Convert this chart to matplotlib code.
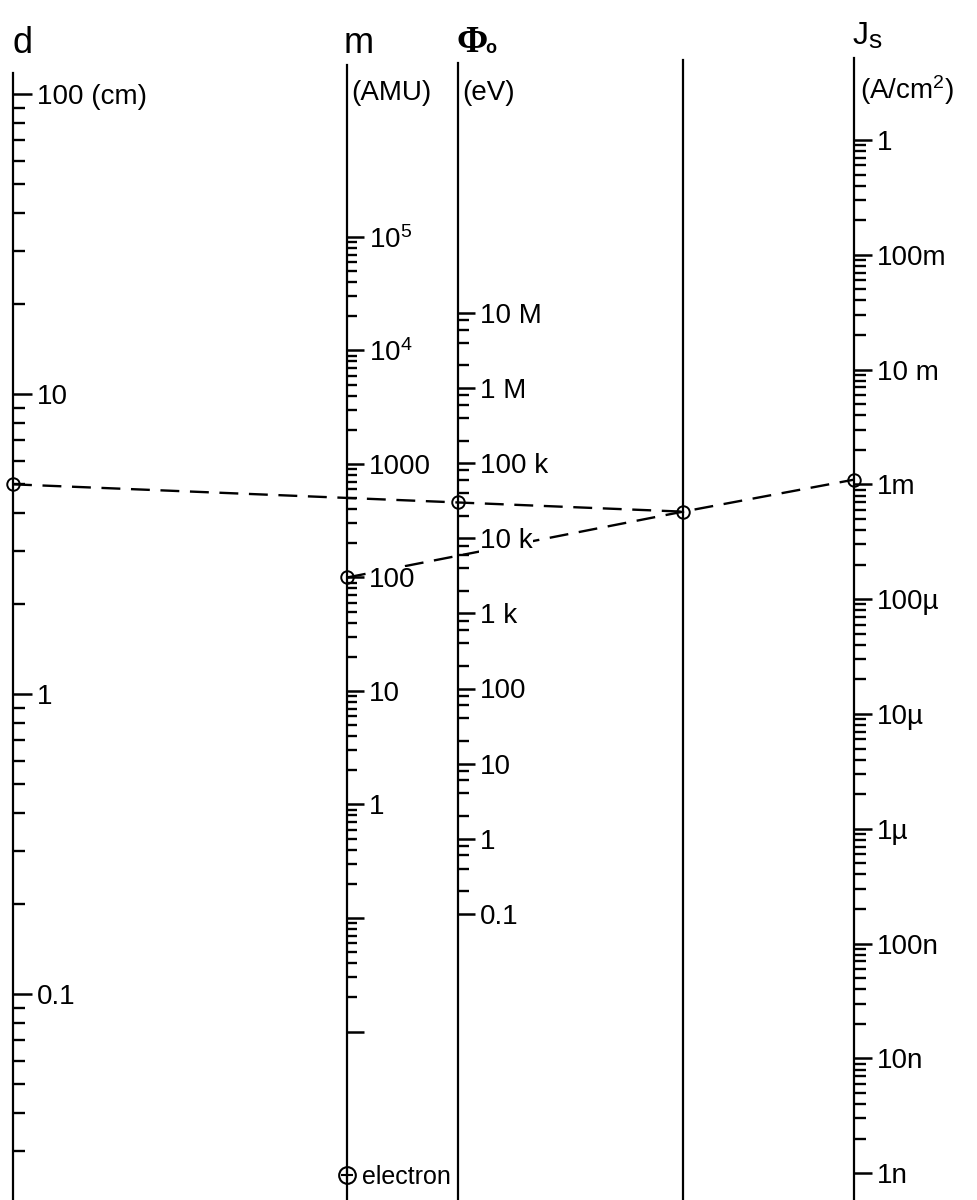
import numpy as np
import matplotlib
matplotlib.use("Agg")
import matplotlib.pyplot as plt
from matplotlib.ticker import FixedLocator, FixedFormatter, NullFormatter

plt.rcParams['font.family'] = ['Liberation Sans', 'DejaVu Sans']
plt.rcParams['mathtext.fontset'] = 'custom'
plt.rcParams['mathtext.rm'] = 'Liberation Sans'
plt.rcParams['mathtext.it'] = 'Liberation Sans:italic'
plt.rcParams['mathtext.bf'] = 'Liberation Sans:bold'

# --- scale data ---
d_major = [100, 10, 1, 0.1]
d_labels = ['100 (cm)', '10', '1', '0.1']
d_decades = [-2, -1, 0, 1]

m_major = [1e5, 1e4, 1e3, 100, 10, 1, 0.1, 0.01]
m_labels = [r'$\mathregular{10^5}$', r'$\mathregular{10^4}$', '1000', '100', '10', '1', '', '']
m_decades = [-2, -1, 0, 1, 2, 3, 4]
m_electron = 5.486e-4

phi_major = [1e7, 1e6, 1e5, 1e4, 1e3, 100, 10, 1, 0.1]
phi_labels = ['10 M', '1 M', '100 k', '10 k', '1 k', '100', '10', '1', '0.1']
phi_decades = [-1, 0, 1, 2, 3, 4, 5, 6]
phi_subs = [2, 4, 6, 8]

j_major = [1, 0.1, 1e-2, 1e-3, 1e-4, 1e-5, 1e-6, 1e-7, 1e-8, 1e-9]
j_labels = ['1', '100m', '10 m', '1m', '100µ', '10µ', '1µ', '100n', '10n', '1n']
j_decades = [-9, -8, -7, -6, -5, -4, -3, -2, -1]

std_subs = [2, 3, 4, 5, 6, 7, 8, 9]

# worked example
ex_d = 5.0
ex_m = 100.0
ex_phi = 3e4
ex_j = 1.1e-3

W, H = 977, 1200
fig = plt.figure(figsize=(W / 100, H / 100), dpi=100)
fig.patch.set_facecolor('white')

# overlay in pixel coordinates (drawn first, below the scales)
ov = fig.add_axes([0, 0, 1, 1])
ov.set_xlim(0, W)
ov.set_ylim(H, 0)
ov.axis('off')


def minors(decades, subs):
    return [s * 10.0 ** k for k in decades for s in subs]


def make_scale(x_px, top_px, v0=None, y0=None, ppd=None):
    w = 2
    ax = fig.add_axes([(x_px - w) / W, 0, w / W, (H - top_px) / H])
    ax.patch.set_visible(False)
    for s in ['left', 'top', 'bottom']:
        ax.spines[s].set_visible(False)
    ax.spines['right'].set_linewidth(1.6)
    ax.set_xticks([])
    ax.set_xlim(0, 1)
    if v0 is None:
        ax.set_yticks([])
        return ax
    ax.set_yscale('log')
    lo = 10 ** (np.log10(v0) - (H - y0) / ppd)
    hi = 10 ** (np.log10(v0) + (y0 - top_px) / ppd)
    ax.set_ylim(lo, hi)
    ax.yaxis.tick_right()
    return ax


def set_ticks(ax, major, labels, minor, maj_len, min_len):
    ax.yaxis.set_major_locator(FixedLocator(major))
    ax.yaxis.set_major_formatter(FixedFormatter(labels))
    ax.yaxis.set_minor_locator(FixedLocator(minor))
    ax.yaxis.set_minor_formatter(NullFormatter())
    ax.tick_params(axis='y', which='major', direction='out', length=maj_len,
                   width=1.8, labelsize=20, pad=3.5, right=True, left=False,
                   labelright=True, labelleft=False)
    ax.tick_params(axis='y', which='minor', direction='out', length=min_len,
                   width=1.7, right=True, left=False)


ax_d = make_scale(13, 73, 100, 94, 300)
set_ticks(ax_d, d_major, d_labels, minors(d_decades, std_subs), 13.5, 8.5)

ax_m = make_scale(347, 65, 1e5, 237, 113.5)
set_ticks(ax_m, m_major, m_labels, minors(m_decades, std_subs), 12, 7.5)

ax_phi = make_scale(458, 63, 1e7, 313, 75.1)
set_ticks(ax_phi, phi_major, phi_labels, minors(phi_decades, phi_subs), 12, 8)

ax_piv = make_scale(683, 60)

ax_j = make_scale(854, 58, 1, 140, 114.8)
set_ticks(ax_j, j_major, j_labels, minors(j_decades, std_subs), 13, 8.5)

# white boxes behind labels that the dashed line runs under
for ax, idx in [(ax_m, 3), (ax_phi, 3)]:
    ticks = ax.yaxis.get_major_ticks(len(ax.yaxis.get_majorticklocs()))
    ticks[idx].label2.set_bbox(dict(facecolor='white', edgecolor='none', pad=0.5))


def to_px(ax, v):
    disp = ax.transData.transform((1, v))
    return ov.transData.inverted().transform(disp)


p_d = to_px(ax_d, ex_d)
p_phi = to_px(ax_phi, ex_phi)
p_m = to_px(ax_m, ex_m)
p_j = to_px(ax_j, ex_j)
piv_x = ov.transData.inverted().transform(ax_piv.transAxes.transform((1, 0)))[0]
t = (piv_x - p_d[0]) / (p_phi[0] - p_d[0])
p_piv = np.array([piv_x, p_d[1] + t * (p_phi[1] - p_d[1])])

dash = (0, (8, 4.5))
ov.plot([p_d[0], p_piv[0]], [p_d[1], p_piv[1]], color='black', lw=1.7, ls=dash)
ov.plot([p_m[0], p_piv[0], p_j[0]], [p_m[1], p_piv[1], p_j[1]], color='black', lw=1.7, ls=dash)

for p in [p_d, p_phi, p_m, p_piv, p_j]:
    ov.plot(p[0], p[1], 'o', mfc='none', mec='black', ms=9, mew=1.4, zorder=5)

# electron mass mark
p_e = to_px(ax_m, m_electron)
ov.plot(p_e[0], p_e[1], 'o', mfc='white', mec='black', ms=12, mew=1.5, zorder=5)
ov.plot(p_e[0], p_e[1], '+', color='black', ms=9, mew=1.5, zorder=6)
ov.text(p_e[0] + 15, p_e[1], 'electron', fontsize=18, va='center_baseline', ha='left')

# headers and units
ov.text(13, 53, 'd', fontsize=26, va='baseline', ha='left')
ov.text(344, 53, 'm', fontsize=26, va='baseline', ha='left')
ov.text(456, 52, 'Φ', fontsize=27, va='baseline', ha='left',
        family='Liberation Serif', weight='bold')
ov.text(485, 53, 'o', fontsize=13, va='baseline', ha='left', weight='bold')
ov.text(853, 44, 'J', fontsize=23, va='baseline', ha='left')
ov.text(868, 48, 's', fontsize=19, va='baseline', ha='left')

ov.text(351, 90, '(AMU)', fontsize=20, va='center_baseline', ha='left')
ov.text(462, 90, '(eV)', fontsize=20, va='center_baseline', ha='left')
ov.text(860, 86, r'(A/cm$^\mathregular{2}$)', fontsize=20, va='center_baseline', ha='left')

fig.savefig('out.png', dpi=100, facecolor='white')
